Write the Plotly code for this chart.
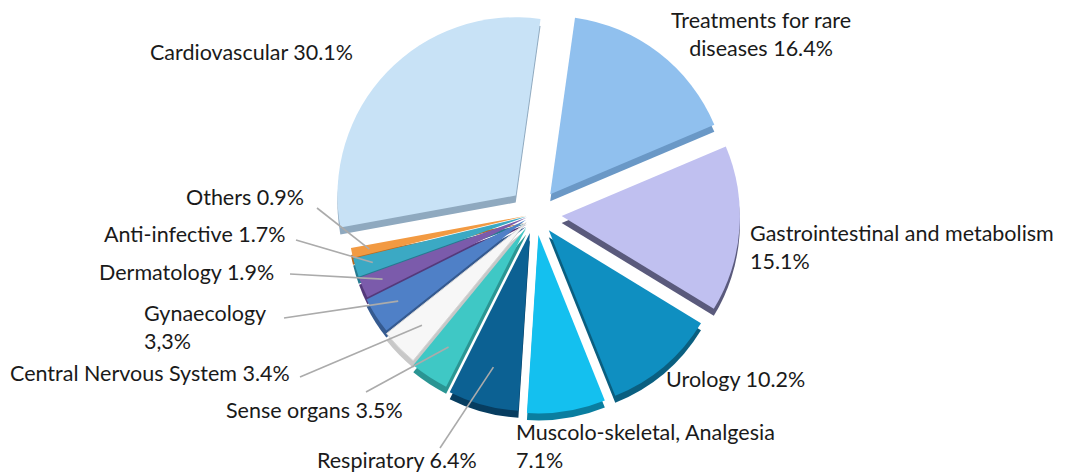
import math
import plotly.graph_objects as go

# ---- data ----
categories = ["Treatments for rare diseases", "Gastrointestinal and metabolism", "Urology",
              "Muscolo-skeletal, Analgesia", "Respiratory", "Sense organs",
              "Central Nervous System", "Gynaecology", "Dermatology", "Anti-infective",
              "Others", "Cardiovascular"]
values = [16.4, 15.1, 10.2, 7.1, 6.4, 3.5, 3.4, 3.3, 1.9, 1.7, 0.9, 30.1]
label_texts = ["Treatments for rare<br>diseases 16.4%", "Gastrointestinal and metabolism<br>15.1%",
               "Urology 10.2%", "Muscolo-skeletal, Analgesia<br>7.1%", "Respiratory 6.4%",
               "Sense organs 3.5%", "Central Nervous System 3.4%", "Gynaecology<br>3,3%",
               "Dermatology 1.9%", "Anti-infective 1.7%", "Others 0.9%", "Cardiovascular 30.1%"]

# ---- styles ----
colors = ["#90c0ee", "#c0c0f0", "#0f8fc1", "#14c0ef", "#0c6193", "#3fc8c5",
          "#f7f7f7", "#4f80c7", "#7b5bab", "#3ba9c4", "#f29a42", "#c8e2f6"]
side_colors = ["#6a98c6", "#5a5a7c", "#0a5f80", "#0a7ea0", "#073d60", "#2a9593",
               "#c8c8c8", "#355a90", "#54397a", "#267a90", "#b86a20", "#8fa9bf"]
pulls = [0.14, 0.15, 0.12, 0.12, 0.11, 0.09, 0.07, 0.06, 0.05, 0.05, 0.05, 0.15]
rotation = 8

W, H = 1077, 475
cx, cy = 527, 206
box = 410
maxpull = max(pulls)
r = box / (2 + 2 * maxpull)
dx0, dx1 = (cx - 215) / W, (cx + 215) / W
dy1 = 1 - (cy - box / 2) / H
dy0 = 1 - (cy + box / 2) / H
depth = 7 / H

fig = go.Figure()
# depth layer (3D side)
fig.add_trace(go.Pie(values=values, labels=categories, sort=False, direction="clockwise",
                     rotation=rotation, pull=pulls, textinfo="none", hoverinfo="skip",
                     marker=dict(colors=side_colors, line=dict(width=0)),
                     domain=dict(x=[dx0, dx1], y=[dy0 - depth, dy1 - depth]),
                     showlegend=False))
line_cols = ["rgba(0,0,0,0)"] * len(values)
line_cols[6] = "#d5d5d5"
fig.add_trace(go.Pie(values=values, labels=categories, sort=False, direction="clockwise",
                     rotation=rotation, pull=pulls, textinfo="none",
                     marker=dict(colors=colors, line=dict(width=1, color=line_cols)),
                     domain=dict(x=[dx0, dx1], y=[dy0, dy1]),
                     showlegend=False))

# ---- labels (layout positions in pixels) ----
label_pos = [  # x, y, xanchor, align
    (762, 34, "center", "center"),
    (749, 247, "left", "left"),
    (665, 379, "left", "left"),
    (515, 446, "left", "left"),
    (316, 460, "left", "left"),
    (225, 410, "left", "left"),
    (9, 373, "left", "left"),
    (143, 327, "left", "left"),
    (98, 272, "left", "left"),
    (103, 234, "left", "left"),
    (185, 197, "left", "left"),
    (252, 52, "center", "center"),
]
off_x, off_y = -9, -8  # font metric correction
# leader line start (label side), None for no line
leader_start = [None, None, None, None, (432, 440), (358, 384), (292, 369),
                (276, 310), (282, 266), (288, 232), (309, 200), None]
leader_frac = [0, 0, 0, 0, 0.78, 0.8, 0.82, 0.85, 0.88, 0.9, 0.9, 0]

tot = sum(values)
cum = 0
for i, v in enumerate(values):
    mid = math.radians(rotation + 360 * (cum + v / 2) / tot)
    cum += v
    x, y, xa, al = label_pos[i]
    fig.add_annotation(x=(x + off_x) / W, y=1 - (y + off_y) / H, xref="paper", yref="paper",
                       text=label_texts[i], showarrow=False, xanchor=xa, yanchor="middle",
                       align=al, font=dict(family="Lato", size=21.5, color="#1a1a1a"))
    if leader_start[i] is not None:
        d = (pulls[i] + leader_frac[i]) * r
        ex = cx + d * math.sin(mid)
        ey = cy - d * math.cos(mid)
        sx, sy = leader_start[i]
        fig.add_shape(type="line", xref="paper", yref="paper",
                      x0=sx / W, y0=1 - sy / H, x1=ex / W, y1=1 - ey / H,
                      line=dict(color="#ababab", width=1.6))

fig.update_layout(width=W, height=H, margin=dict(l=0, r=0, t=0, b=0),
                  paper_bgcolor="white", plot_bgcolor="white", showlegend=False)
fig.write_html("out.html")
